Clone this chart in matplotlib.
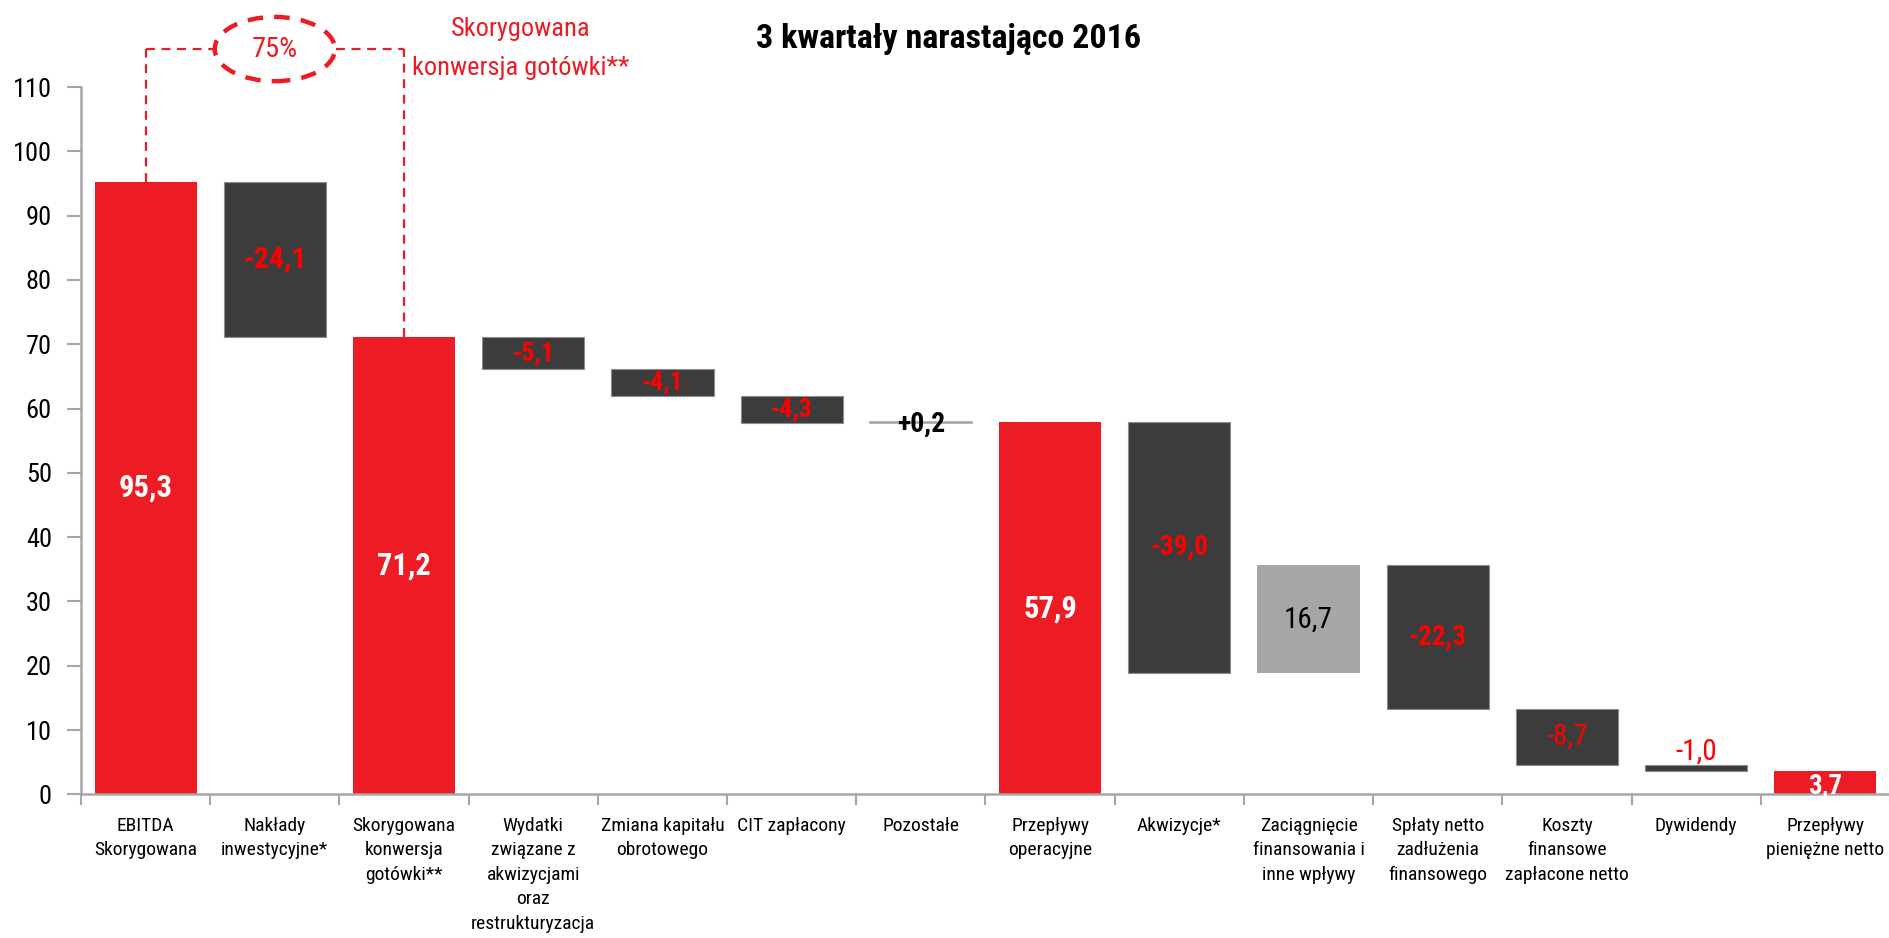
import matplotlib
matplotlib.use("Agg")
import matplotlib.pyplot as plt
from matplotlib import font_manager as fm
from matplotlib.patches import Ellipse
import numpy as np

# ---------------- data ----------------
categories = [
    "EBITDA\nSkorygowana",
    "Nakłady\ninwestycyjne*",
    "Skorygowana\nkonwersja\ngotówki**",
    "Wydatki\nzwiązane z\nakwizycjami\noraz\nrestrukturyzacja",
    "Zmiana kapitału\nobrotowego",
    "CIT zapłacony",
    "Pozostałe",
    "Przepływy\noperacyjne",
    "Akwizycje*",
    "Zaciągnięcie\nfinansowania i\ninne wpływy",
    "Spłaty netto\nzadłużenia\nfinansowego",
    "Koszty\nfinansowe\nzapłacone netto",
    "Dywidendy",
    "Przepływy\npieniężne netto",
]
values = [95.3, -24.1, 71.2, -5.1, -4.1, -4.3, 0.2, 57.9, -39.0, 16.7, -22.3, -8.7, -1.0, 3.7]
is_total = [True, False, True, False, False, False, False, True, False, False, False, False, False, True]
value_labels = ["95,3", "-24,1", "71,2", "-5,1", "-4,1", "-4,3", "+0,2", "57,9",
                "-39,0", "16,7", "-22,3", "-8,7", "-1,0", "3,7"]
title = "3 kwartały narastająco 2016"
conversion_label = "75%"
conversion_text = ["Skorygowana", "konwersja gotówki**"]
yticks = [0, 10, 20, 30, 40, 50, 60, 70, 80, 90, 100, 110]

# ---------------- fonts ----------------
names = {f.name for f in fm.fontManager.ttflist}
def pick(*cands):
    for c in cands:
        if c in names:
            return c
    return "DejaVu Sans"
cond = pick("Roboto Condensed", "Liberation Sans Narrow", "Roboto")
narrow = pick("Liberation Sans Narrow", "Roboto Condensed", "Roboto")

RED = "#ED1C24"
DARK = "#3C3C3C"
LIGHT = "#A6A6A6"
LBLRED = "#FF0000"

fig = plt.figure(figsize=(18.9, 9.38), dpi=100)
ax = fig.add_axes([81 / 1890, 1 - 794.4 / 938, 1 - 81 / 1890, (794.4 - 87.0) / 938])

# compute bottoms / heights
x = np.arange(len(values))
bottoms, heights, colors = [], [], []
run = 0.0
for v, t in zip(values, is_total):
    if t:
        bottoms.append(0.0); heights.append(v); colors.append(RED)
        run = v
    else:
        if v < 0:
            bottoms.append(run + v); heights.append(-v); colors.append(DARK)
        else:
            bottoms.append(run); heights.append(v); colors.append(LIGHT)
        run = run + v

bw = 0.79
for i in range(len(values)):
    ec = "#8c8c8c" if colors[i] == DARK else colors[i]
    lw = 0.8 if colors[i] == DARK else (1.2 if heights[i] < 1 else 0)
    ax.bar(x[i], heights[i], bw, bottom=bottoms[i], color=colors[i],
           edgecolor=ec, linewidth=lw, zorder=2)

# value labels
styles = {
    0: dict(color="white", weight="bold", size=22),
    1: dict(color=LBLRED, weight="bold", size=21.5),
    2: dict(color="white", weight="bold", size=22),
    3: dict(color=LBLRED, weight="bold", size=18.5),
    4: dict(color=LBLRED, weight="bold", size=18.5),
    5: dict(color=LBLRED, weight="bold", size=18.5),
    6: dict(color="black", weight="bold", size=20),
    7: dict(color="white", weight="bold", size=22),
    8: dict(color=LBLRED, weight="bold", size=19.5),
    9: dict(color="black", weight="normal", size=21),
    10: dict(color=LBLRED, weight="bold", size=19.5),
    11: dict(color=LBLRED, weight="normal", size=21),
    12: dict(color=LBLRED, weight="normal", size=21),
    13: dict(color="white", weight="bold", size=19.5),
}
for i, lab in enumerate(value_labels):
    yc = bottoms[i] + heights[i] / 2
    if i == 12:
        yc = bottoms[i] + heights[i] + 2.0
    if i == 13:
        yc = 1.3
    if i == 6:
        yc = bottoms[i] + heights[i] / 2 - 0.3
    st = styles[i]
    ax.text(x[i], yc, lab, ha="center", va="center", family=[cond, "DejaVu Sans"],
            color=st["color"], fontweight=st["weight"], fontsize=st["size"], zorder=5,
            clip_on=False)

# axes styling
ax.set_xlim(-0.5, len(values) - 0.5)
ax.set_ylim(0, 110)
ax.set_yticks(yticks)
ax.set_yticklabels([str(t) for t in yticks], family=[narrow, "DejaVu Sans"], fontsize=19)
ax.tick_params(axis="y", length=10, width=1.5, color=LIGHT, pad=11)
ax.set_xticks(np.arange(len(values) + 1) - 0.5)
ax.set_xticklabels([])
ax.tick_params(axis="x", which="major", length=8, width=1.5, color=LIGHT)
ax.set_xticks(x, minor=True)
ax.set_xticklabels(categories, minor=True, family=[narrow, "DejaVu Sans"], fontsize=14,
                   linespacing=1.47)
ax.tick_params(axis="x", which="minor", length=0, pad=16)
for s in ["top", "right"]:
    ax.spines[s].set_visible(False)
for s in ["left", "bottom"]:
    ax.spines[s].set_color(LIGHT)
    ax.spines[s].set_linewidth(1.8)

# conversion annotation (dashed)
ytop = 115.9
dash = dict(color=RED, lw=1.6, ls=(0, (4, 3)), clip_on=False, zorder=4)
ax.plot([x[0], x[0]], [values[0], ytop], **dash)
ax.plot([x[0], x[1] - 0.47], [ytop, ytop], **dash)
ax.plot([x[1] + 0.47, x[2]], [ytop, ytop], **dash)
ax.plot([x[2], x[2]], [values[2], ytop], **dash)
ell = Ellipse((x[1], ytop), 0.93, 10.0, fill=False, edgecolor=RED, lw=3.2,
              ls=(0, (3.5, 2.5)), clip_on=False, zorder=4)
ax.add_patch(ell)
ax.text(x[1], ytop, conversion_label, ha="center", va="center", color=RED,
        family=[cond, "DejaVu Sans"], fontsize=20.5, clip_on=False)
ax.text(2.9, 119.0, conversion_text[0], ha="center", va="center", color=RED,
        family=[narrow, "DejaVu Sans"], fontsize=19, clip_on=False)
ax.text(2.9, 113.0, conversion_text[1], ha="center", va="center", color=RED,
        family=[narrow, "DejaVu Sans"], fontsize=19, clip_on=False)

fig.text(949 / 1890, 1 - 38.6 / 938, title, ha="center", va="center",
         family=[cond, "DejaVu Sans"], fontweight="bold", fontsize=24.5)

fig.savefig("out.png", dpi=100)
